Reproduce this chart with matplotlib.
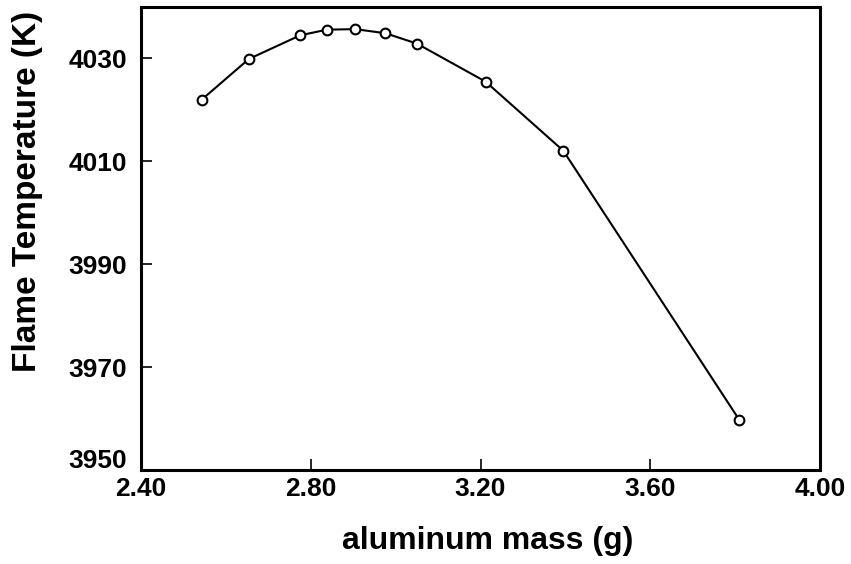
import matplotlib
matplotlib.use('Agg')
import matplotlib.pyplot as plt
import matplotlib.transforms as mtransforms

# aluminum mass (g) vs flame temperature (K)
mass = [2.543, 2.654, 2.775, 2.838, 2.905, 2.976, 3.050, 3.212, 3.395, 3.810]
temp = [4022.0, 4029.9, 4034.5, 4035.6, 4035.7, 4034.9, 4032.9, 4025.5, 4012.1, 3959.8]

x_ticks = [2.40, 2.80, 3.20, 3.60, 4.00]
y_ticks = [3950, 3970, 3990, 4010, 4030]

plt.rcParams['font.family'] = ['Liberation Sans', 'DejaVu Sans']
plt.rcParams['font.weight'] = 'bold'

fig = plt.figure(figsize=(8.51, 5.64), dpi=100)
ax = fig.add_axes([0.1657, 0.1658, 0.7979, 0.8218])

ax.plot(mass, temp, color='black', linewidth=1.5, marker='o', markersize=7,
        markerfacecolor='white', markeredgecolor='black', markeredgewidth=1.5)

ax.set_xlim(2.40, 4.00)
ax.set_ylim(3950, 4040)
ax.set_xticks(x_ticks)
ax.set_xticklabels(['%.2f' % v for v in x_ticks])
ax.set_yticks(y_ticks)
ax.tick_params(direction='in', length=8, width=1.2, labelsize=19)
ax.tick_params(axis='x', pad=5)
ax.tick_params(axis='y', pad=10)
for lbl in ax.get_xticklabels() + ax.get_yticklabels():
    lbl.set_fontweight('bold')

# bottom y label sits a bit above the corner in the original
shift = mtransforms.ScaledTranslation(0, 12 / 100, fig.dpi_scale_trans)
lab0 = ax.get_yticklabels()[0]
lab0.set_transform(lab0.get_transform() + shift)

for s in ax.spines.values():
    s.set_linewidth(2.2)

ax.set_xlabel('aluminum mass (g)', fontsize=23, fontweight='bold')
ax.set_ylabel('Flame Temperature (K)', fontsize=24, fontweight='bold')
ax.xaxis.set_label_coords(0.511, -0.12)
ax.yaxis.set_label_coords(-0.144, 0.601)

fig.savefig('out.png', dpi=100)
